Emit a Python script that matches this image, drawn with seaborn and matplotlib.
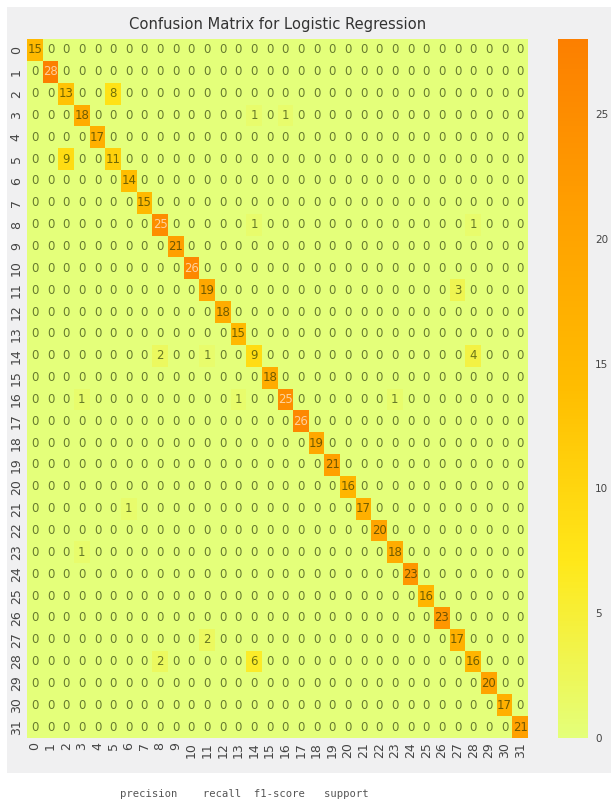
import numpy as np
import pandas as pd
import seaborn as sns
import matplotlib.pyplot as plt
from matplotlib.patches import Rectangle

# class ids 0..31
class_labels = [str(i) for i in range(32)]

# correctly classified counts (diagonal)
diag_counts = [15, 28, 13, 18, 17, 11, 14, 15, 25, 21, 26, 19, 18, 15, 9, 18,
               25, 26, 19, 21, 16, 17, 20, 18, 23, 16, 23, 17, 16, 20, 17, 21]

# misclassifications: true class, predicted class, count
off_true = [2, 3, 3, 5, 8, 8, 11, 14, 14, 14, 16, 16, 16, 21, 23, 27, 28, 28]
off_pred = [5, 14, 16, 2, 14, 28, 27, 8, 11, 28, 3, 13, 23, 6, 3, 11, 8, 14]
off_count = [8, 1, 1, 9, 1, 1, 3, 2, 1, 4, 1, 1, 1, 1, 1, 2, 2, 6]

report_header = "precision    recall  f1-score   support"

# build the confusion matrix
cm = np.diag(diag_counts)
for t, p, c in zip(off_true, off_pred, off_count):
    cm[t, p] = c
cm_df = pd.DataFrame(cm, index=class_labels, columns=class_labels)

W, H = 611, 807
fig = plt.figure(figsize=(W / 100, H / 100), dpi=100)
fig.patch.set_facecolor("white")

# grey notebook output area behind the figure
fig.patches.append(Rectangle((7 / W, 1 - 773 / H), 1 - 7 / W, (773 - 7) / H,
                             transform=fig.transFigure, facecolor="#f0f0f1",
                             edgecolor="none", zorder=-1))

ax = fig.add_axes([27 / W, 1 - 738 / H, 501 / W, (738 - 39) / H])
cax = fig.add_axes([558 / W, 1 - 738 / H, 30 / W, (738 - 39) / H])

sns.heatmap(cm_df, annot=True, fmt="d", cmap="Wistia", ax=ax, cbar_ax=cax,
            annot_kws={"fontsize": 9.4, "alpha": 0.62, "fontstretch": "condensed"})

# dark annotations look olive on the yellow cells in the original
for txt in ax.texts:
    if txt.get_color() != "w":
        txt.set_color("#1a2a00")

ax.set_title("Confusion Matrix for Logistic Regression", fontsize=11.8,
             color="#333333", pad=7, fontstretch="condensed")
ax.tick_params(length=0, labelsize=9, labelcolor="#444444", pad=3)
plt.setp(ax.get_yticklabels(), rotation=90, va="center")
plt.setp(ax.get_xticklabels(), rotation=90)

cax.tick_params(length=0, labelsize=7.5, labelcolor="#444444", pad=5)
cax.set_yticks([0, 5, 10, 15, 20, 25])
for s in cax.spines.values():
    s.set_visible(False)

fig.text(120 / W, 1 - 794 / H, report_header, fontsize=7.6,
         family="DejaVu Sans Mono", color="#555555", va="center", ha="left")

fig.savefig("out.png", dpi=100, facecolor=fig.get_facecolor())
